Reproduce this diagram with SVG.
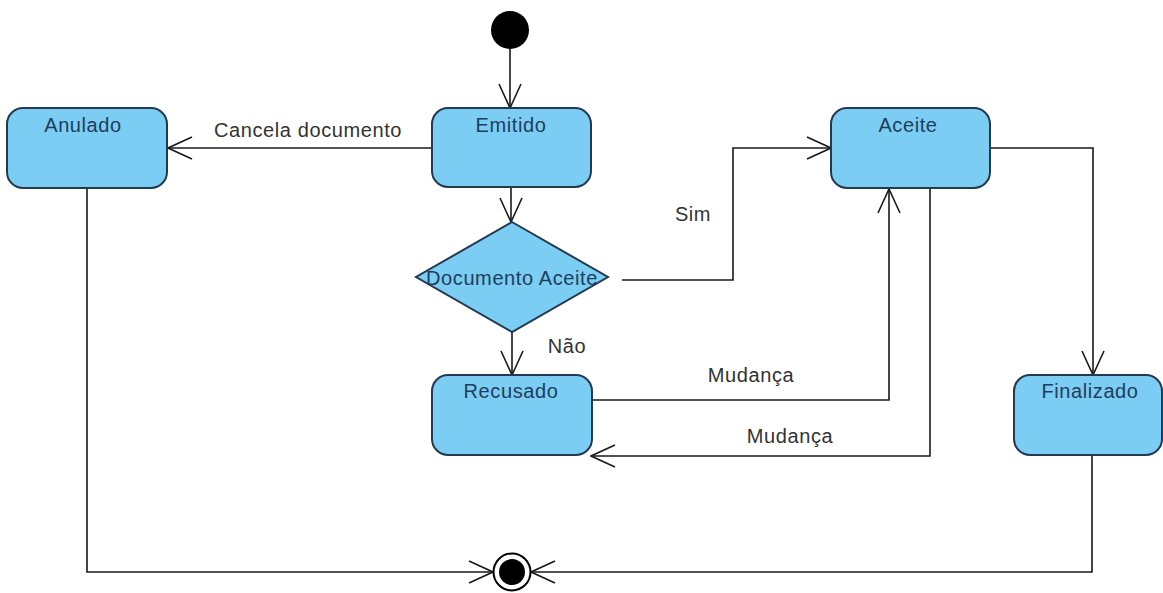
<svg xmlns="http://www.w3.org/2000/svg" width="1163" height="593" viewBox="0 0 1163 593">
  <defs>
    <marker id="open" viewBox="0 0 26 26" refX="25" refY="13" markerWidth="26" markerHeight="26" markerUnits="userSpaceOnUse" orient="auto">
      <path d="M1,2 L25,13 L1,24" fill="none" stroke="#1a1a1a" stroke-width="1.6"/>
    </marker>
  </defs>
  <style>
    .state { fill: #7bcdf3; stroke: #243a50; stroke-width: 2; }
    .lbl { font-family: "Liberation Sans", Arial, sans-serif; font-size: 20px; fill: #1f3d5c; text-anchor: middle; letter-spacing: 0.6px; }
    .elbl { font-family: "Liberation Sans", Arial, sans-serif; font-size: 20px; fill: #333333; text-anchor: middle; letter-spacing: 0.6px; }
    .edge { fill: none; stroke: #1a1a1a; stroke-width: 1.6; marker-end: url(#open); }
  </style>
  <rect width="1163" height="593" fill="#ffffff"/>

  <!-- transitions -->
  <g id="connectors">
    <path class="edge" d="M510,49 L510,108"/>
    <path class="edge" d="M432,148 L168,148"/>
    <path class="edge" d="M511,187 L511,222"/>
    <path class="edge" d="M512,332 L512,375"/>
    <path class="edge" d="M622,280 L733,280 L733,148 L831,148"/>
    <path class="edge" d="M990,148 L1093,148 L1093,375"/>
    <path class="edge" d="M592,400 L889,400 L889,189"/>
    <path class="edge" d="M930,188 L930,456 L591,456"/>
    <path class="edge" d="M87,188 L87,572 L493,572"/>
    <path class="edge" d="M1092,455 L1092,572 L531,572"/>
    <text class="elbl" x="308" y="137">Cancela documento</text>
    <text class="elbl" x="693" y="221">Sim</text>
    <text class="elbl" x="567" y="353">Não</text>
    <text class="elbl" x="751" y="382">Mudança</text>
    <text class="elbl" x="790" y="443">Mudança</text>
  </g>

  <g id="initial">
    <circle cx="510" cy="30" r="19" fill="#000000"/>
  </g>

  <g id="emitido">
    <rect class="state" x="432" y="108" width="159" height="79" rx="16"/>
    <text class="lbl" x="511" y="132">Emitido</text>
  </g>

  <g id="anulado">
    <rect class="state" x="7" y="108" width="160" height="80" rx="16"/>
    <text class="lbl" x="83" y="132">Anulado</text>
  </g>

  <g id="aceite">
    <rect class="state" x="831" y="108" width="159" height="80" rx="16"/>
    <text class="lbl" x="908" y="132">Aceite</text>
  </g>

  <g id="decisao">
    <polygon class="state" points="512,222 608,277 512,332 416,277"/>
    <text class="lbl" x="512" y="285">Documento Aceite</text>
  </g>

  <g id="recusado">
    <rect class="state" x="432" y="375" width="160" height="80" rx="16"/>
    <text class="lbl" x="511" y="398">Recusado</text>
  </g>

  <g id="finalizado">
    <rect class="state" x="1014" y="375" width="148" height="80" rx="16"/>
    <text class="lbl" x="1090" y="398">Finalizado</text>
  </g>

  <g id="final">
    <circle cx="512" cy="572" r="18.5" fill="#ffffff" stroke="#000000" stroke-width="2"/>
    <circle cx="512" cy="572" r="13" fill="#000000"/>
  </g>
</svg>
